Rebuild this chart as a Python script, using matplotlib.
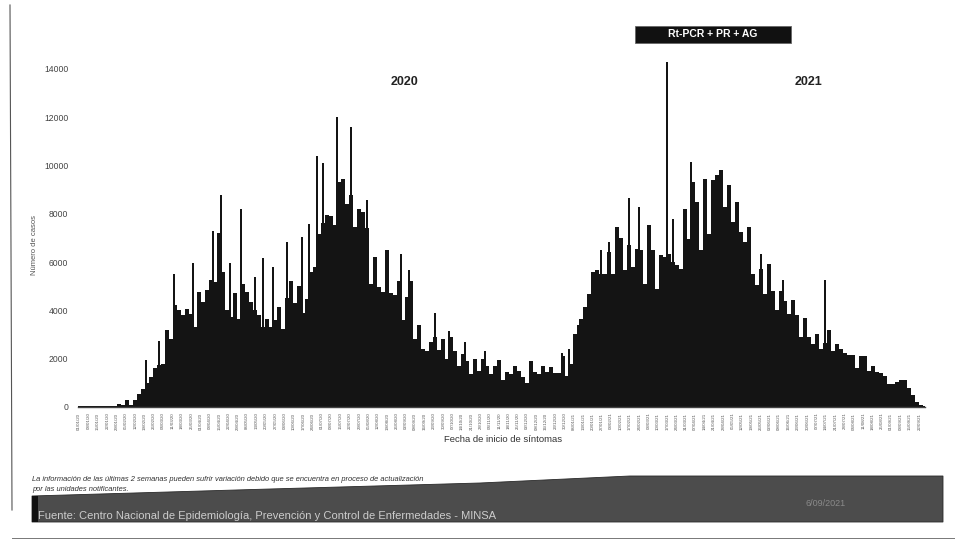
import numpy as np
import pandas as pd
import matplotlib
matplotlib.use("Agg")
import matplotlib.pyplot as plt
from matplotlib.patches import Polygon, Rectangle

plt.rcParams['font.family'] = ['Liberation Sans', 'DejaVu Sans']

# Cases by date of symptom onset, one value per 3 days
cases_2020 = [
    30, 30, 30, 30, 30, 30, 60, 40, 40, 60, 110, 90, 280, 100, 300, 550, 760, 1000, 1250, 1600,
    1740, 1800, 3180, 2830, 4220, 4000, 3800, 4070, 3860, 3310, 4760, 4350, 4840, 5250, 5180, 7200,
    5590, 4000, 3730, 4720, 3640, 5090, 4760, 4350, 4000, 3800, 3300, 3640, 3310, 3600, 4140, 3230,
    4500, 5200, 4300, 5000, 3900, 4470, 5590, 5800, 7160, 7600, 7950, 7900, 7530, 9300, 9440, 8400,
    8780, 7450, 8200, 8070, 7400, 5100, 6200, 4970, 4760, 6500, 4700, 4640, 5200, 3590, 4550, 5200,
    2800, 3400, 2400, 2300, 2700, 2900, 2350, 2830, 2000, 2900, 2300, 1700, 2200, 1900, 1350, 2000,
    1500, 2000, 1700, 1350, 1700, 1950, 1130, 1450, 1370, 1700, 1500, 1240, 1000, 1900, 1450, 1370,
    1700, 1450, 1650, 1400, 1400, 2100, 1300, 1800, 3040, 3380,
]
cases_2021 = [
    3640, 4140, 4690, 5590, 5670, 5500, 5500, 6400, 5520,
    7450, 7000, 5670, 6700, 5800, 6540, 6500, 5100, 7530, 6500, 4900, 6300, 6200, 6330, 6000, 5880,
    5700, 8200, 6960, 9320, 8500, 6500, 9440, 7160, 9400, 9600, 9810, 8280, 9190, 7660, 8490, 7250,
    6830, 7450, 5500, 5050, 5700, 4690, 5900, 4800, 4000, 4800, 4400, 3850, 4440, 3800, 2900, 3700,
    2900, 2600, 3030, 2400, 2650, 3170, 2300, 2600, 2400, 2250, 2150, 2140, 1600, 2100, 2100, 1500,
    1700, 1450, 1400, 1280, 970, 970, 1030, 1100, 1130, 800, 480, 220, 80, 40,
]
# Single days that stand out above their neighbours
peak_days = [50, 60, 71, 85, 100, 106, 113, 121, 132, 138, 145, 156, 167, 172, 178, 183, 193, 204,
             216, 241, 247, 267, 277, 289, 304, 362, 367, 391, 397, 412, 420, 441, 445, 459, 511,
             528, 559]
peak_cases = [1960, 2730, 5500, 5960, 7280, 8780, 5960, 8200, 5380, 6170, 5800, 6830, 7040, 7580,
              10390, 10100, 12000, 11590, 8570, 6340, 5670, 3890, 3150, 2690, 2320, 2240, 2400,
              6500, 6830, 8650, 8300, 14280, 7780, 10140, 6350, 5250, 5270]

y_ticks = [0, 2000, 4000, 6000, 8000, 10000, 12000, 14000]
y_labels = ['0', '2000', '4000', '6000', '8000', '10000', '12000', '14000']
box_label = 'Rt-PCR + PR + AG'
year_labels = ['2020', '2021']
x_title = 'Fecha de inicio de síntomas'
y_title = 'Número de casos'
note_lines = ['La información de las últimas 2 semanas pueden sufrir variación debido que se encuentra en proceso de actualización',
              'por las unidades notificantes.']
source = 'Fuente: Centro Nacional de Epidemiología, Prevención y Control de Enfermedades - MINSA'
stamp = '6/09/2021'

W, H = 955, 541
fig = plt.figure(figsize=(W / 100, H / 100), dpi=100, facecolor='white')

# Chart axes
left, right, base, top = 78, 925, 407, 59.2
ax = fig.add_axes([left / W, 1 - base / H, (right - left) / W, (base - top) / H])
ink = '#141414'
days_2020 = np.arange(len(cases_2020)) * 3
days_2021 = days_2020[-1] + 1.5 + np.arange(len(cases_2021)) * 3
ax.bar(days_2020, cases_2020, width=3.05, color=ink, linewidth=0)
ax.bar(days_2021, cases_2021, width=3.05, color=ink, linewidth=0)
ax.bar(peak_days, peak_cases, width=1.5, color=ink, linewidth=0)
ax.set_xlim(-1, 634.25)
ax.set_ylim(0, 14400)
for s in ['top', 'right', 'left']:
    ax.spines[s].set_visible(False)
ax.spines['bottom'].set_color('#444444')
ax.spines['bottom'].set_linewidth(1.0)
ax.set_yticks(y_ticks)
ax.set_yticklabels(y_labels, fontsize=6.2, color='#444444')
ax.tick_params(axis='y', length=0, pad=7)
week_ticks = np.arange(0, 636, 7)
dates = pd.date_range('2020-01-01', periods=len(week_ticks), freq='7D')
ax.set_xticks(week_ticks)
ax.set_xticklabels(dates.strftime('%d/%m/%y'), rotation=90, fontsize=3.2, color='#555555')
ax.tick_params(axis='x', length=0, pad=4)
ax.patch.set_alpha(0)

# Overlay in figure pixels for the page furniture
ov2 = fig.add_axes([0, 0, 1, 1], zorder=5)
ov2.set_xlim(0, W)
ov2.set_ylim(H, 0)
ov2.axis('off')
ov2.patch.set_alpha(0)

ov2.add_patch(Rectangle((635, 26), 156, 17, facecolor='#111111', edgecolor='#666666', linewidth=0.6))
ov2.text(713, 34, box_label, color='white', ha='center', va='center', fontsize=7.5, fontweight='bold')
ov2.text(404, 82, year_labels[0], color='#222222', ha='center', va='center', fontsize=9, fontweight='bold')
ov2.text(808, 82, year_labels[1], color='#222222', ha='center', va='center', fontsize=9, fontweight='bold')
ov2.text(503, 440, x_title, color='#333333', ha='center', va='center', fontsize=6.8)
ov2.text(34, 245, y_title, color='#555555', ha='center', va='center', rotation=90, fontsize=5.5)
ov2.text(32, 479.5, note_lines[0], color='#333333', ha='left', va='center', fontsize=5.4, style='italic')
ov2.text(32, 489.5, note_lines[1], color='#333333', ha='left', va='center', fontsize=5.4, style='italic')

ov2.add_patch(Polygon([(32, 496), (270, 489), (480, 483), (630, 476), (943, 476), (943, 522), (32, 522)],
                      closed=True, facecolor='#4c4c4c', edgecolor='#2a2a2a', linewidth=0.6))
ov2.add_patch(Rectangle((32, 496), 6, 26, facecolor='#111111', linewidth=0))
ov2.text(38, 516, source, color='#cccccc', ha='left', va='center', fontsize=8.05)
ov2.text(826, 503, stamp, color='#8a8a8a', ha='center', va='center', fontsize=6.5)

# Scan edges
ov2.plot([10, 11, 12], [5, 250, 510], color='#555555', linewidth=0.8)
ov2.plot([12, 955], [538, 538], color='#777777', linewidth=0.7)

fig.savefig('out.png', dpi=100, facecolor='white')
